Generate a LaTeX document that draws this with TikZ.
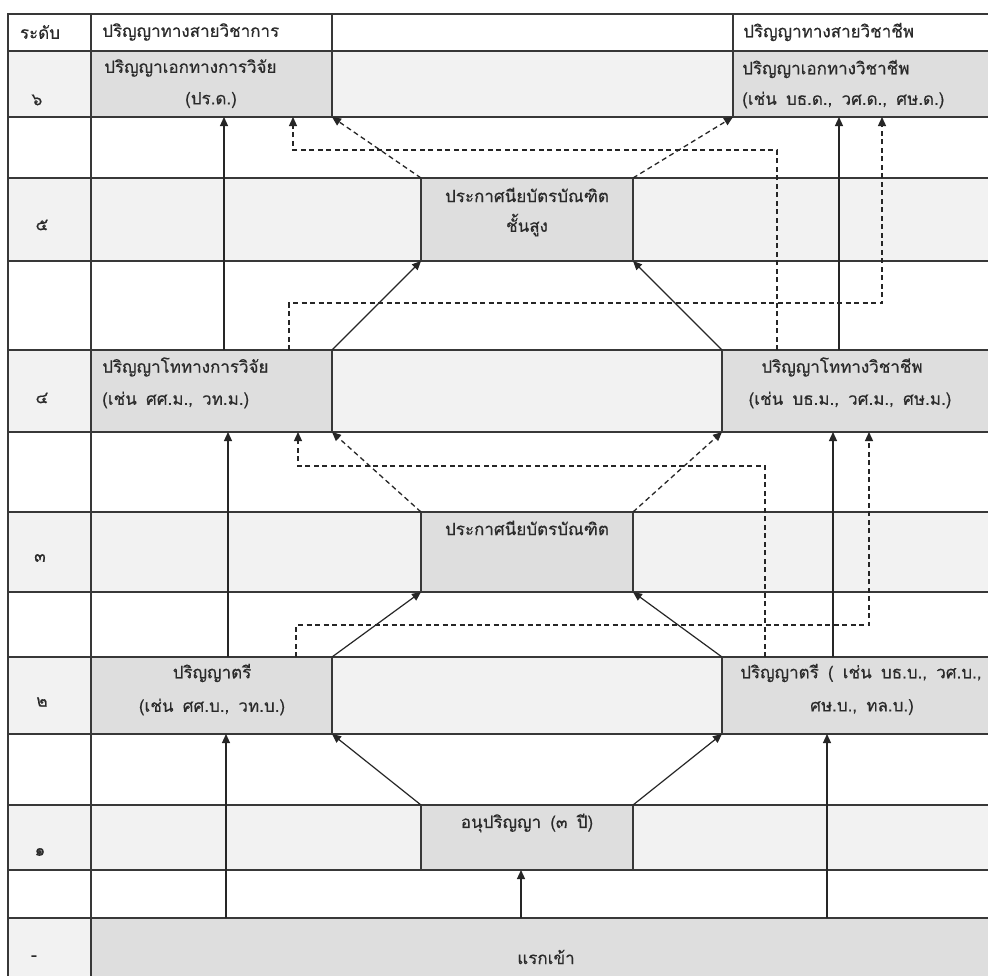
\documentclass[tikz,border=0pt]{standalone}
\usepackage{fontspec}
\newfontfamily\thaifont[Script=Thai,WordSpace=1.6,FakeBold=0.4]{Loma}
\usetikzlibrary{arrows.meta}
\definecolor{boxgray}{HTML}{DEDEDE}
\definecolor{rowlight}{HTML}{F2F2F2}
\definecolor{linecol}{HTML}{383838}
\definecolor{txtcol}{HTML}{2A2A2A}
\tikzset{
  base/.style={draw=linecol, line width=1.3pt, inner sep=0pt, outer sep=0pt, rectangle},
  gbox/.style={base, fill=boxgray},
  lbox/.style={base, fill=rowlight},
  wbox/.style={base, fill=white},
  lbl/.style={font=\thaifont\fontsize{17}{19}\selectfont, text=txtcol, inner sep=0pt},
  arr/.style={draw=black!85, line width=1.2pt, -{Triangle[length=9pt,width=8pt]}},
  darr/.style={arr, line width=1.3pt, dash pattern=on 5pt off 3.5pt}
}
\newcommand\cell[6]{\node[#6, minimum width={(#4-#2)*1pt}, minimum height={(#5-#3)*1pt}] (#1) at ({(#2+#4)/2},{(#3+#5)/2}) {};}
\begin{document}
\begin{tikzpicture}[x=1pt,y=-1pt]
\useasboundingbox (0,0) rectangle (988,975);
\clip (0,0) rectangle (988,975);
% header
\cell{h0}{8}{14}{91}{51}{wbox}
\cell{h1}{91}{14}{332}{51}{wbox}
\cell{h2}{332}{14}{733}{51}{wbox}
\cell{h3}{733}{14}{992}{51}{wbox}
% row 6
\cell{l6}{8}{51}{91}{117}{lbox}
\cell{docR}{91}{51}{332}{117}{gbox}
\cell{m6}{332}{51}{733}{117}{lbox}
\cell{docP}{733}{51}{992}{117}{gbox}
% gap
\cell{g6a}{8}{117}{91}{178}{wbox}
\cell{g6b}{91}{117}{992}{178}{wbox}
% row 5
\cell{l5}{8}{178}{91}{261}{lbox}
\cell{a5}{91}{178}{421}{261}{lbox}
\cell{gdH}{421}{178}{633}{261}{gbox}
\cell{b5}{633}{178}{992}{261}{lbox}
% gap
\cell{g5a}{8}{261}{91}{350}{wbox}
\cell{g5b}{91}{261}{992}{350}{wbox}
% row 4
\cell{l4}{8}{350}{91}{432}{lbox}
\cell{masR}{91}{350}{332}{432}{gbox}
\cell{m4}{332}{350}{722}{432}{lbox}
\cell{masP}{722}{350}{992}{432}{gbox}
% gap
\cell{g4a}{8}{432}{91}{512}{wbox}
\cell{g4b}{91}{432}{992}{512}{wbox}
% row 3
\cell{l3}{8}{512}{91}{592}{lbox}
\cell{a3}{91}{512}{421}{592}{lbox}
\cell{gd}{421}{512}{633}{592}{gbox}
\cell{b3}{633}{512}{992}{592}{lbox}
% gap
\cell{g3a}{8}{592}{91}{657}{wbox}
\cell{g3b}{91}{592}{992}{657}{wbox}
% row 2
\cell{l2}{8}{657}{91}{734}{lbox}
\cell{bacR}{91}{657}{332}{734}{gbox}
\cell{m2}{332}{657}{722}{734}{lbox}
\cell{bacP}{722}{657}{992}{734}{gbox}
% gap
\cell{g2a}{8}{734}{91}{805}{wbox}
\cell{g2b}{91}{734}{992}{805}{wbox}
% row 1
\cell{l1}{8}{805}{91}{870}{lbox}
\cell{a1}{91}{805}{421}{870}{lbox}
\cell{assoc}{421}{805}{633}{870}{gbox}
\cell{b1}{633}{805}{992}{870}{lbox}
% gap
\cell{g1a}{8}{870}{91}{918}{wbox}
\cell{g1b}{91}{870}{992}{918}{wbox}
% entry row
\cell{l0}{8}{918}{91}{980}{lbox}
\cell{entry}{91}{918}{992}{980}{gbox}

% texts
\node[lbl] (t-h0) at (40,32) {ระดับ};
\node[lbl, anchor=west] (t-h1) at (102,32) {ปริญญาทางสายวิชาการ};
\node[lbl, anchor=west] (t-h3) at (743,32) {ปริญญาทางสายวิชาชีพ};
\node[lbl] (t-l6) at (37,100) {๖};
\node[lbl, anchor=west] (t-docR1) at (104,68) {ปริญญาเอกทางการวิจัย};
\node[lbl] (t-docR2) at (211,100) {(ปร.ด.)};
\node[lbl, anchor=west] (t-docP1) at (742,69) {ปริญญาเอกทางวิชาชีพ};
\node[lbl, anchor=west] (t-docP2) at (742,100) {(เช่น บธ.ด., วศ.ด., ศษ.ด.)};
\node[lbl] (t-l5) at (42,225) {๕};
\node[lbl] (t-gdH1) at (527,195) {ประกาศนียบัตรบัณฑิต};
\node[lbl] (t-gdH2) at (527,225) {ชั้นสูง};
\node[lbl] (t-l4) at (42,398) {๔};
\node[lbl, anchor=west] (t-masR1) at (102,367) {ปริญญาโททางการวิจัย};
\node[lbl, anchor=west] (t-masR2) at (102,400) {(เช่น ศศ.ม., วท.ม.)};
\node[lbl] (t-masP1) at (842,367) {ปริญญาโททางวิชาชีพ};
\node[lbl] (t-masP2) at (850,400) {(เช่น บธ.ม., วศ.ม., ศษ.ม.)};
\node[lbl] (t-l3) at (40,558) {๓};
\node[lbl] (t-gd) at (527,528) {ประกาศนียบัตรบัณฑิต};
\node[lbl] (t-l2) at (42,702) {๒};
\node[lbl] (t-bacR1) at (212,673) {ปริญญาตรี};
\node[lbl] (t-bacR2) at (212,707) {(เช่น ศศ.บ., วท.บ.)};
\node[lbl, anchor=west] (t-bacP1) at (740,673) {ปริญญาตรี ( เช่น บธ.บ., วศ.บ.,};
\node[lbl] (t-bacP2) at (862,707) {ศษ.บ., ทล.บ.)};
\node[lbl] (t-l1) at (40,852) {๑};
\node[lbl] (t-assoc) at (527,823) {อนุปริญญา (๓ ปี)};
\node[lbl] (t-l0) at (34,958) {-};
\node[lbl] (t-entry) at (546,957) {แรกเข้า};

% corner coordinates of dashed routes
\coordinate (r2a) at (777,150); \coordinate (r2b) at (293,150);
\coordinate (r5a) at (289,303); \coordinate (r5b) at (882,303);
\coordinate (r8a) at (765,466); \coordinate (r8b) at (298,466);
\coordinate (r11a) at (296,625); \coordinate (r11b) at (869,625);

% to doctorate level
\draw[arr] (masR.north -| 224,0) -- (docR.south -| 224,0);
\draw[darr] (masP.north -| 777,0) -- (r2a) -- (r2b) -- (docR.south -| 293,0);
\draw[darr] (gdH.north west) -- (docR.south east);
\draw[darr] (gdH.north east) -- (docP.south west);
\draw[arr] (masP.north -| 839,0) -- (docP.south -| 839,0);
\draw[darr] (masR.north -| 289,0) -- (r5a) -- (r5b) -- (docP.south -| 882,0);
% to higher grad diploma
\draw[arr] (masR.north east) -- (gdH.south west);
\draw[arr] (masP.north west) -- (gdH.south east);
% to master level
\draw[arr] (bacR.north -| 228,0) -- (masR.south -| 228,0);
\draw[darr] (bacP.north -| 765,0) -- (r8a) -- (r8b) -- (masR.south -| 298,0);
\draw[darr] (gd.north west) -- (masR.south east);
\draw[darr] (gd.north east) -- (masP.south west);
\draw[arr] (bacP.north -| 833,0) -- (masP.south -| 833,0);
\draw[darr] (bacR.north -| 296,0) -- (r11a) -- (r11b) -- (masP.south -| 869,0);
% to grad diploma
\draw[arr] (bacR.north east) -- (gd.south west);
\draw[arr] (bacP.north west) -- (gd.south east);
% to bachelor level
\draw[arr] (entry.north -| 226,0) -- (bacR.south -| 226,0);
\draw[arr] (assoc.north west) -- (bacR.south east);
\draw[arr] (assoc.north east) -- (bacP.south west);
\draw[arr] (entry.north -| 521,0) -- (assoc.south -| 521,0);
\draw[arr] (entry.north -| 827,0) -- (bacP.south -| 827,0);
\end{tikzpicture}
\end{document}
